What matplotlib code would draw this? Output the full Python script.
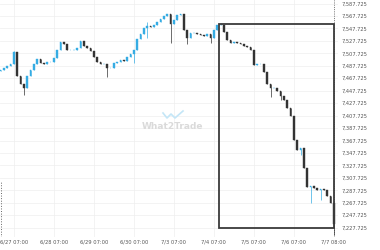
import matplotlib
matplotlib.use("Agg")
import matplotlib.pyplot as plt
import matplotlib.patches as patches
import numpy as np

# ── Data (2h candles) ─────────────────────────────────────────────
open0 = 7479.3
closes = [
    7480.9, 7484.2, 7487.4, 7490.6, 7509.8, 7471.3, 7458.5, 7452.0, 7471.3, 7480.9,
    7490.6, 7498.6, 7492.2, 7490.6, 7493.8, 7493.8, 7500.2, 7513.1, 7525.9, 7522.7,
    7513.1, 7513.1, 7513.1, 7516.3, 7527.5, 7519.5, 7516.3, 7511.5, 7501.8, 7493.8,
    7490.6, 7490.6, 7484.2, 7484.2, 7492.2, 7493.8, 7497.0, 7495.4, 7501.8, 7506.6,
    7513.1, 7530.7, 7538.8, 7548.4, 7551.6, 7550.0, 7553.2, 7558.0, 7562.8, 7567.7,
    7570.9, 7554.8, 7561.2, 7569.3, 7570.9, 7545.2, 7532.3, 7540.4, 7540.4, 7538.8,
    7537.2, 7535.6, 7538.8, 7532.3, 7545.2, 7553.2, 7553.2, 7542.0, 7529.1, 7524.3,
    7525.9, 7524.3, 7522.7, 7519.5, 7517.9, 7513.1, 7489.0, 7490.6, 7490.6, 7477.7,
    7458.5, 7452.0, 7452.0, 7447.2, 7439.2, 7432.8, 7419.9, 7407.1, 7368.6, 7352.5,
    7355.7, 7323.6, 7293.1, 7294.7, 7291.5, 7288.3, 7290.0, 7288.3, 7278.6, 7267.4,
    7233.7,
]
wick_idx  = [4,      7,      32,     40,     44,     51,     56,     63,     66,
             81,     84,     90,     93,     96,     100]
wick_high = [7511.5, 7458.5, 7490.6, 7513.1, 7558.0, 7570.9, 7545.2, 7538.8, 7556.4,
             7458.5, 7447.2, 7355.7, 7294.7, 7290.0, 7267.4]
wick_low  = [7490.6, 7440.8, 7469.7, 7492.2, 7532.3, 7524.3, 7522.7, 7524.3, 7553.2,
             7437.6, 7432.8, 7344.5, 7267.4, 7272.2, 7216.0]

tick_hours  = [8, 32, 56, 80, 104, 128, 152, 176, 200]
tick_labels = ["6/27 07:00", "6/28 07:00", "6/29 07:00", "6/30 07:00", "7/3 07:00",
               "7/4 07:00", "7/5 07:00", "7/6 07:00", "7/7 08:00"]

box_start, box_end = 130.8, 200
box_top, box_bottom = 7554.8, 7227.725

UP   = "#35ace3"
DOWN = "#333333"

hours  = np.arange(len(closes)) * 2
opens  = [open0] + closes[:-1]
highs  = [max(o, c) for o, c in zip(opens, closes)]
lows   = [min(o, c) for o, c in zip(opens, closes)]
for i, h, l in zip(wick_idx, wick_high, wick_low):
    highs[i] = max(highs[i], h)
    lows[i]  = min(lows[i], l)

fig = plt.figure(figsize=(3.8, 2.5), dpi=100)
ax = fig.add_axes([0, 13/250, 338/380, 237/250])

for x, o, c, h, l in zip(hours, opens, closes, highs, lows):
    col = UP if c >= o else DOWN
    ax.vlines(x, l, h, color=col, lw=0.5, zorder=3)
    ax.add_patch(patches.Rectangle((x - 0.55, min(o, c)), 1.1, max(abs(c - o), 0.6),
                                   facecolor=col, edgecolor=col, lw=0.3, zorder=3))

# pattern box + markers
ax.add_patch(patches.Rectangle((box_start, box_bottom), box_end - box_start,
                               box_top - box_bottom, fill=False,
                               edgecolor="#3a3a3a", lw=1.3, zorder=4))
ax.axvline(box_end, color="#555555", lw=0.6, ls=":", zorder=2)
ax.vlines(0.4, 7200, 7301, color="#666666", lw=0.7, ls=":", zorder=2)

# watermark
ax.text(0.509, 0.468, "What2Trade", transform=ax.transAxes, ha="center", va="center",
        fontsize=6.5, fontweight="bold", color="#dadada", zorder=1)
lx = np.array([163, 167, 171, 175, 183]) / 338
ly = (237 - np.array([113, 118, 114, 118, 111])) / 237
ax.plot(lx, ly, transform=ax.transAxes, color="#c4e6f7", lw=1.2, zorder=1)

ax.set_xlim(-0.3, 202.5)
ax.set_ylim(7212.8, 7593.35)
ax.set_xticks(tick_hours)
ax.set_xticklabels(tick_labels)
ax.set_yticks(np.arange(7227.725, 7600, 20))
ax.set_yticklabels([f"{v:,.3f}" for v in np.arange(7227.725, 7600, 20)])
ax.yaxis.tick_right()
ax.tick_params(axis="both", length=0, labelsize=3.7, colors="#555555")
ax.tick_params(axis="y", pad=2.5)
ax.tick_params(axis="x", pad=2)
ax.grid(color="#eeeeee", lw=0.5, zorder=0)
ax.set_axisbelow(True)
for s in ax.spines.values():
    s.set_visible(False)

fig.savefig("out.png", dpi=100)
